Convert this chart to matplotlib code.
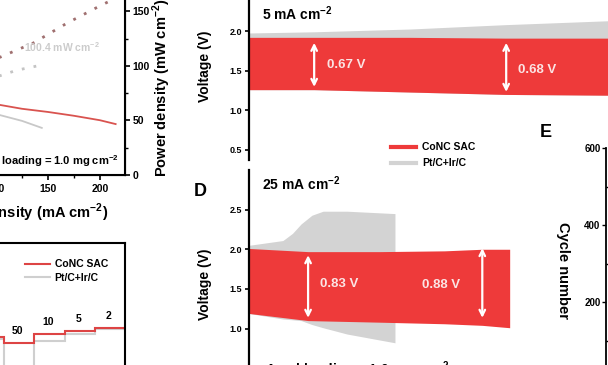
import numpy as np
import matplotlib
matplotlib.use('Agg')
import matplotlib.pyplot as plt
from matplotlib.ticker import MultipleLocator

plt.rcParams['font.family'] = ['Liberation Sans', 'DejaVu Sans']
plt.rcParams['font.weight'] = 'bold'
plt.rcParams['mathtext.fontset'] = 'custom'
plt.rcParams['mathtext.rm'] = 'Liberation Sans'
plt.rcParams['mathtext.bf'] = 'Liberation Sans:bold'

RED = '#ee3a3a'
GRAY = '#d3d3d3'
CM2 = r'cm$^{\mathbf{-2}}$'

# ---- panel B: polarization / power density (only right part visible)
pol_current_conc = [95, 104, 125, 150, 175, 200, 215]
pol_voltage_conc = [1.12, 1.10, 1.04, 0.99, 0.93, 0.86, 0.80]
pol_current_pt = [95, 104, 125, 144]
pol_voltage_pt = [0.96, 0.94, 0.85, 0.74]
pow_current_conc = [95, 104, 136, 168, 200, 215]
pow_density_conc = [104, 108, 121, 139, 155, 162]
pow_current_pt = [95, 104, 120, 140]
pow_density_pt = [88, 91, 96, 100]

# ---- rate capability steps (last five steps visible)
rate_edges = [5, 6, 7, 8, 9, 10]
rate_labels = ['20', '50', '10', '5', '2']
rate_v_conc = [1.03, 0.93, 1.08, 1.13, 1.18]
rate_v_pt = [1.00, 0.45, 0.97, 1.08, 1.17]

# ---- panel C: cycling at 5 mA cm-2
time_c = [0, 15, 37, 59, 83]
conc_top_c = [1.92, 1.92, 1.92, 1.91, 1.91]
conc_bot_c = [1.26, 1.26, 1.23, 1.20, 1.19]
pt_top_c = [1.975, 1.99, 2.025, 2.08, 2.13]

# ---- panel D: cycling at 25 mA cm-2
time_conc_d = [0, 13.6, 30, 45, 53.7, 60]
conc_top_d = [2.01, 1.97, 1.97, 1.98, 2.00, 2.00]
conc_bot_d = [1.19, 1.10, 1.08, 1.06, 1.04, 1.01]
time_pt_d = [0, 7.8, 10, 12, 14.5, 17.05, 22.6, 33.6]
pt_top_d = [2.05, 2.11, 2.20, 2.32, 2.43, 2.48, 2.48, 2.45]
pt_bot_d = [1.19, 1.12, 1.11, 1.10, 1.05, 1.01, 0.93, 0.82]

W, H = 608, 365


def rect(l, t, r, b):
    return [l / W, 1 - b / H, (r - l) / W, (b - t) / H]


def fx(x):
    return x / W


def fy(y):
    return 1 - y / H


fig = plt.figure(figsize=(6.08, 3.65), dpi=100)

# =============================== polarization panel
ax = fig.add_axes(rect(-108, -16, 125, 175))
ax.plot(pol_current_conc, pol_voltage_conc, color='#d9534f', lw=1.3)
ax.plot(pol_current_pt, pol_voltage_pt, color='#c8c8c8', lw=1.3)
ax.set_xlim(0, 224)
ax.set_ylim(0, 3.0)
ax.set_yticks([])
ax.xaxis.set_major_locator(MultipleLocator(50))
ax.xaxis.set_minor_locator(MultipleLocator(25))
ax.tick_params(axis='x', which='major', length=3.5, width=1.2, labelsize=7.5, pad=3)
ax.tick_params(axis='x', which='minor', length=2, width=1)
for s in ax.spines.values():
    s.set_linewidth(1.5)
ax2 = ax.twinx()
ax2.plot(pow_current_conc, pow_density_conc, color='#a07070', lw=2, ls=(0, (1, 3.3)))
ax2.plot(pow_current_pt, pow_density_pt, color='#c4c4c4', lw=2, ls=(0, (1, 3.3)))
ax2.set_ylim(0, 175)
ax2.set_yticks([0, 50, 100, 150])
ax2.yaxis.set_minor_locator(MultipleLocator(25))
ax2.tick_params(axis='y', which='major', length=3.5, width=1.2, labelsize=7.5, pad=2)
ax2.tick_params(axis='y', which='minor', length=2, width=1)
ax2.text(163, 117, '100.4 mW ' + CM2, color='#cccccc', fontsize=7.5,
         ha='center', va='center')
ax2.text(0.975, 0.075, 'Catalyst loading = 1.0 mg ' + CM2, transform=ax2.transAxes,
         fontsize=8, ha='right', va='center')
fig.text(fx(108), fy(213), 'Current density (mA ' + CM2 + ')', fontsize=10.5,
         ha='right', va='center')
fig.text(fx(162), fy(88), 'Power density (mW ' + CM2 + ')', fontsize=10.5,
         rotation=90, ha='center', va='center')

# =============================== rate capability panel
axr = fig.add_axes(rect(-177, 243, 125, 399))
axr.stairs(rate_v_pt, rate_edges, color='#cfcfcf', lw=1.5, baseline=None)
axr.stairs(rate_v_conc, rate_edges, color='#dd4444', lw=1.5, baseline=None)
axr.set_xlim(0, 10)
axr.set_ylim(0, 2.6)
axr.set_xticks([])
axr.set_yticks([])
for s in axr.spines.values():
    s.set_linewidth(1.5)
for i, lab in enumerate(rate_labels):
    axr.text(rate_edges[i] + 0.45, rate_v_conc[i] + 0.2, lab, fontsize=7.5,
             ha='center', va='center')
axr.plot([], [], color='#dd4444', lw=1.5, label='CoNC SAC')
axr.plot([], [], color='#cfcfcf', lw=1.5, label='Pt/C+Ir/C')
axr.legend(loc='upper right', bbox_to_anchor=(fx(113), fy(254)),
           bbox_transform=fig.transFigure, frameon=False, fontsize=7.5,
           handlelength=2.4, handletextpad=0.4, labelspacing=0.35, borderpad=0)

# =============================== panel C
axc = fig.add_axes(rect(249, -24.5, 640, 160))
axc.fill_between(time_c, conc_bot_c, pt_top_c, color=GRAY, lw=0)
axc.fill_between(time_c, conc_bot_c, conc_top_c, color=RED, lw=0)
axc.set_xlim(0, 90)
axc.set_ylim(0.373, 2.7)
axc.set_yticks([0.5, 1.0, 1.5, 2.0])
axc.set_yticklabels(['0.5', '1.0', '1.5', '2.0'])
axc.set_xticks([])
for side in ['top', 'right', 'bottom']:
    axc.spines[side].set_visible(False)
axc.spines['left'].set_linewidth(1.6)
axc.tick_params(axis='y', length=3, width=1.2, labelsize=6.5, pad=2)
axc.annotate('', xy=(15, 1.886), xytext=(15, 1.26),
             arrowprops=dict(arrowstyle='<->', color='white', lw=1.6))
axc.annotate('', xy=(59.2, 1.886), xytext=(59.2, 1.197),
             arrowprops=dict(arrowstyle='<->', color='white', lw=1.6))
axc.text(18, 1.576, '0.67 V', color='#fbe4e4', fontsize=9.5, va='center')
axc.text(62, 1.51, '0.68 V', color='#fbe4e4', fontsize=9.5, va='center')
fig.text(fx(262), fy(14), '5 mA ' + CM2, fontsize=10, ha='left', va='center')
fig.text(fx(205), fy(66), 'Voltage (V)', fontsize=10, rotation=90,
         ha='center', va='center')
axc.plot([], [], color=RED, lw=3, label='CoNC SAC')
axc.plot([], [], color=GRAY, lw=3, label='Pt/C+Ir/C')
axc.legend(loc='upper left', bbox_to_anchor=(fx(386), fy(137)),
           bbox_transform=fig.transFigure, frameon=False, fontsize=7.5,
           handlelength=2.4, handletextpad=0.6, labelspacing=0.6, borderpad=0)

# =============================== panel D
axd = fig.add_axes(rect(249, 170, 640, 384))
axd.fill_between(time_pt_d, pt_bot_d, pt_top_d, color=GRAY, lw=0)
axd.fill_between(time_conc_d, conc_bot_d, conc_top_d, color=RED, lw=0)
axd.set_xlim(0, 90)
axd.set_ylim(0.3, 3.0)
axd.set_yticks([0.5, 1.0, 1.5, 2.0, 2.5])
axd.set_yticklabels(['0.5', '1.0', '1.5', '2.0', '2.5'])
axd.set_xticks([])
for side in ['top', 'right', 'bottom']:
    axd.spines[side].set_visible(False)
axd.spines['left'].set_linewidth(1.6)
axd.tick_params(axis='y', length=3, width=1.2, labelsize=6.5, pad=2)
axd.annotate('', xy=(13.6, 1.96), xytext=(13.6, 1.10),
             arrowprops=dict(arrowstyle='<->', color='white', lw=1.6))
axd.annotate('', xy=(53.7, 2.05), xytext=(53.7, 1.10),
             arrowprops=dict(arrowstyle='<->', color='white', lw=1.6))
axd.text(16.4, 1.56, '0.83 V', color='#fbe4e4', fontsize=9.5, va='center')
axd.text(39.9, 1.55, '0.88 V', color='#fbe4e4', fontsize=9.5, va='center')
fig.text(fx(262), fy(184), '25 mA ' + CM2, fontsize=10, ha='left', va='center')
fig.text(fx(205), fy(284), 'Voltage (V)', fontsize=10, rotation=90,
         ha='center', va='center')
fig.text(fx(265), fy(359), 'Areal loading = 1.0 mg ' + CM2, fontsize=10,
         ha='left', va='top')
fig.text(fx(200), fy(192), 'D', fontsize=13, ha='center', va='center')

# =============================== panel E
axe = fig.add_axes(rect(606, 148, 700, 379))
axe.set_ylim(0, 600)
axe.set_yticks([0, 200, 400, 600])
axe.yaxis.set_minor_locator(MultipleLocator(100))
axe.set_xticks([])
for side in ['top', 'right', 'bottom']:
    axe.spines[side].set_visible(False)
axe.spines['left'].set_linewidth(1.3)
axe.tick_params(axis='y', which='major', length=3, width=1, labelsize=7, pad=1)
axe.tick_params(axis='y', which='minor', length=2, width=1, direction='in')
fig.text(fx(563), fy(270), 'Cycle number', fontsize=10.5, rotation=270,
         ha='center', va='center')
fig.text(fx(546), fy(133), 'E', fontsize=13, ha='center', va='center')

fig.savefig('out.png', dpi=100)
